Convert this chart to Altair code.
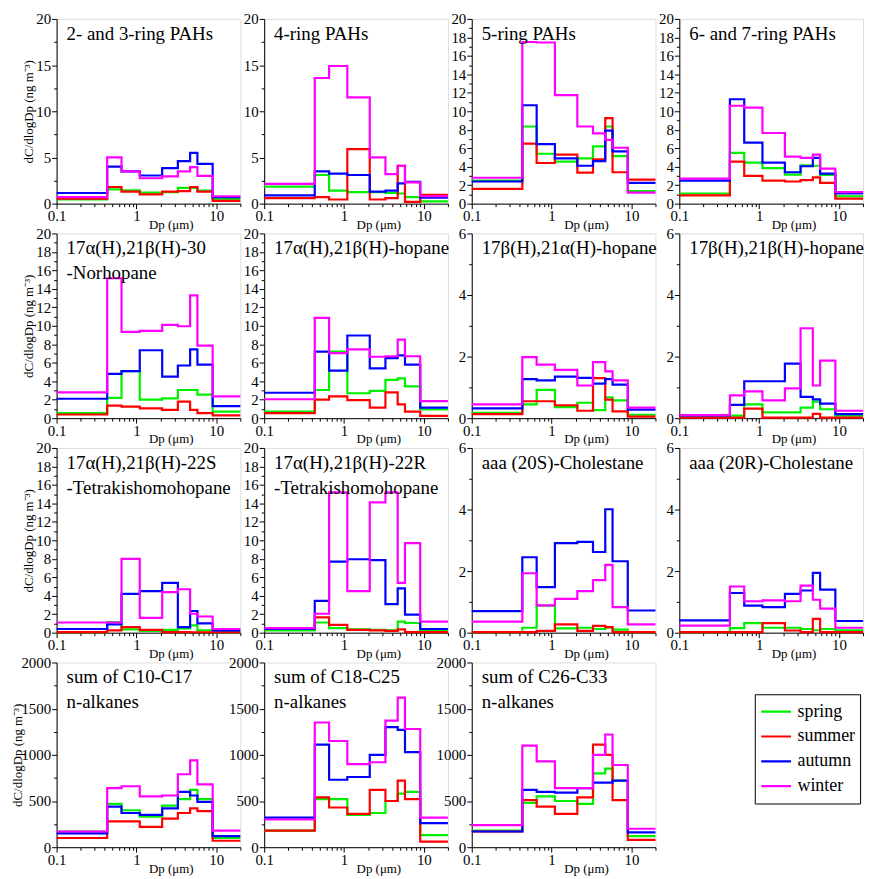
import altair as alt
import pandas as pd

# ---------------- data ----------------
EDGES = [0.1, 0.43, 0.65, 1.1, 2.1, 3.3, 4.7, 5.8, 9.0, 20.0]   # impactor bin edges (µm)
SEASONS = ["spring", "summer", "autumn", "winter"]
COLORS = ["#00ee00", "#ff0000", "#0000ff", "#ff00ff"]
FONT = "Liberation Serif"

PAH23 = dict(spring=[0.45, 1.55, 1.45, 1.2, 1.25, 1.7, 1.7, 1.4, 0.5],
             summer=[0.55, 1.8, 1.3, 1.0, 1.3, 1.35, 1.8, 1.3, 0.3],
             autumn=[1.15, 4.0, 3.5, 3.05, 3.85, 4.6, 5.5, 4.3, 0.7],
             winter=[0.7, 5.0, 3.5, 2.75, 2.95, 3.5, 3.95, 3.0, 0.8])
PAH4 = dict(spring=[1.85, 3.1, 1.4, 1.25, 1.25, 1.15, 1.1, 0.7, 0.25],
            summer=[0.6, 0.7, 0.45, 5.9, 0.45, 0.6, 4.1, 0.2, 0.95],
            autumn=[0.9, 3.5, 3.25, 3.1, 1.3, 1.4, 2.2, 2.35, 0.65],
            winter=[2.15, 13.6, 14.9, 11.5, 5.0, 3.2, 4.1, 2.3, 0.8])
PAH5 = dict(spring=[2.5, 8.35, 5.4, 4.55, 4.9, 6.2, 8.35, 5.15, 1.35],
            summer=[1.6, 6.5, 4.4, 5.3, 3.35, 4.8, 9.25, 3.4, 2.6],
            autumn=[2.4, 10.65, 6.45, 4.9, 4.1, 4.6, 7.9, 5.65, 2.25],
            winter=[2.8, 17.5, 17.45, 11.75, 8.35, 7.6, 6.9, 6.05, 1.2])
PAH67 = dict(spring=[1.1, 5.5, 4.45, 3.85, 3.15, 4.15, 4.1, 3.1, 0.8],
             summer=[0.9, 4.55, 3.0, 2.5, 2.4, 2.55, 2.85, 2.25, 0.55],
             autumn=[2.5, 11.3, 6.6, 4.45, 3.4, 4.05, 4.95, 3.25, 1.1],
             winter=[2.7, 10.6, 10.4, 7.65, 5.1, 4.95, 5.3, 3.8, 1.25])
NORHOP = dict(spring=[0.55, 2.2, 5.1, 2.0, 2.15, 3.05, 3.05, 2.55, 0.7],
              summer=[0.4, 1.35, 1.25, 1.05, 0.9, 1.8, 0.9, 0.55, 0.3],
              autumn=[2.1, 4.8, 5.1, 7.35, 4.5, 5.7, 7.45, 5.8, 1.3],
              winter=[2.8, 15.15, 9.35, 9.45, 10.1, 9.95, 13.3, 7.85, 2.35])
HOP_AB = dict(spring=[0.7, 3.05, 7.2, 2.7, 2.95, 4.15, 4.3, 3.45, 0.95],
              summer=[0.55, 2.0, 2.35, 1.95, 1.15, 2.8, 1.5, 0.7, 0.25],
              autumn=[2.75, 7.2, 5.15, 8.95, 5.4, 6.5, 6.8, 5.8, 1.15],
              winter=[2.05, 10.85, 7.05, 7.45, 6.65, 6.7, 8.5, 6.7, 1.85])
HOP_BA = dict(spring=[0.17, 0.45, 0.92, 0.36, 0.5, 0.26, 0.68, 0.58, 0.11],
              summer=[0.13, 0.55, 0.55, 0.42, 0.24, 1.3, 0.6, 0.22, 0.05],
              autumn=[0.32, 1.27, 1.23, 1.35, 1.31, 1.12, 1.27, 1.09, 0.28],
              winter=[0.45, 1.98, 1.74, 1.57, 1.06, 1.82, 1.52, 1.23, 0.34])
HOP_BB = dict(spring=[0.05, 0.08, 0.45, 0.19, 0.19, 0.34, 0.54, 0.29, 0.08],
              summer=[0.02, 0.02, 0.31, 0.02, 0.02, 0.02, 0.14, 0.02, 0.02],
              autumn=[0.09, 0.43, 1.2, 1.2, 1.77, 0.69, 0.61, 0.47, 0.13],
              winter=[0.1, 0.74, 0.87, 0.58, 0.97, 2.92, 1.06, 1.87, 0.24])
HOMO_S = dict(spring=[0.07, 1.15, 0.35, 0.2, 0.3, 0.45, 0.8, 0.25, 0.07],
              summer=[0.07, 0.25, 0.6, 0.3, 0.07, 0.07, 0.05, 0.05, 0.05],
              autumn=[0.4, 0.9, 4.2, 4.5, 5.4, 0.6, 2.35, 1.0, 0.25],
              winter=[1.1, 1.1, 8.0, 1.6, 4.4, 4.7, 2.05, 1.75, 0.4])
HOMO_R = dict(spring=[0.25, 1.1, 0.5, 0.35, 0.3, 0.25, 1.2, 1.05, 0.2],
              summer=[0.5, 1.65, 0.85, 0.3, 0.25, 0.2, 0.35, 0.07, 0.07],
              autumn=[0.4, 3.45, 7.7, 7.95, 7.85, 3.1, 4.8, 1.95, 0.4],
              winter=[0.5, 2.05, 15.2, 4.5, 14.1, 15.2, 5.4, 9.7, 1.2])
CHOL_S = dict(spring=[0.02, 0.16, 0.88, 0.14, 0.16, 0.12, 0.17, 0.1, 0.02],
              summer=[0.02, 0.02, 0.06, 0.27, 0.06, 0.22, 0.18, 0.02, 0.02],
              autumn=[0.7, 2.45, 1.48, 2.91, 2.95, 2.62, 4.01, 2.32, 0.72],
              winter=[0.36, 1.93, 0.89, 1.1, 1.35, 1.71, 2.2, 0.83, 0.27])
CHOL_R = dict(spring=[0.02, 0.15, 0.31, 0.16, 0.16, 0.12, 0.08, 0.12, 0.08],
              summer=[0.02, 0.02, 0.02, 0.31, 0.07, 0.02, 0.45, 0.02, 0.02],
              autumn=[0.4, 1.29, 0.88, 0.83, 1.26, 1.37, 1.94, 1.4, 0.38],
              winter=[0.23, 1.5, 1.02, 1.05, 1.02, 1.53, 1.07, 0.78, 0.16])
ALK_10_17 = dict(spring=[170, 470, 400, 330, 450, 520, 620, 520, 100],
                 summer=[100, 280, 280, 220, 310, 370, 420, 390, 70],
                 autumn=[150, 440, 370, 350, 420, 600, 560, 490, 120],
                 winter=[170, 640, 660, 550, 560, 790, 940, 680, 180])
ALK_18_25 = dict(spring=[180, 520, 520, 350, 370, 500, 580, 600, 130],
                 summer=[180, 540, 430, 360, 620, 500, 720, 520, 60],
                 autumn=[320, 1110, 730, 760, 1000, 1300, 1270, 1030, 260],
                 winter=[300, 1350, 1150, 900, 920, 1370, 1620, 1280, 320])
ALK_26_33 = dict(spring=[180, 480, 550, 500, 470, 800, 850, 720, 120],
                 summer=[170, 510, 440, 360, 540, 1110, 1000, 510, 80],
                 autumn=[170, 620, 600, 590, 640, 700, 700, 720, 160],
                 winter=[240, 1100, 930, 640, 640, 1000, 1220, 890, 200])

PANELS = [
    ["2- and 3-ring PAHs", PAH23, 20, 5, 2.5],
    ["4-ring PAHs", PAH4, 20, 5, 2.5],
    ["5-ring PAHs", PAH5, 20, 2, 1],
    ["6- and 7-ring PAHs", PAH67, 20, 2, 1],
    ["17α(H),21β(H)-30\n-Norhopane", NORHOP, 20, 2, 1],
    ["17α(H),21β(H)-hopane", HOP_AB, 20, 2, 1],
    ["17β(H),21α(H)-hopane", HOP_BA, 6, 2, 1],
    ["17β(H),21β(H)-hopane", HOP_BB, 6, 2, 1],
    ["17α(H),21β(H)-22S\n-Tetrakishomohopane", HOMO_S, 20, 2, 1],
    ["17α(H),21β(H)-22R\n-Tetrakishomohopane", HOMO_R, 20, 2, 1],
    ["aaa (20S)-Cholestane", CHOL_S, 6, 2, 1],
    ["aaa (20R)-Cholestane", CHOL_R, 6, 2, 1],
    ["sum of C10-C17\nn-alkanes", ALK_10_17, 2000, 500, 250],
    ["sum of C18-C25\nn-alkanes", ALK_18_25, 2000, 500, 250],
    ["sum of C26-C33\nn-alkanes", ALK_26_33, 2000, 500, 250],
]

X_TICKS = [0.1, 0.2, 0.3, 0.4, 0.5, 0.6, 0.7, 0.8, 0.9,
           1, 2, 3, 4, 5, 6, 7, 8, 9, 10, 20]
X_MAJOR_TEST = "datum.value == 0.1 || datum.value == 1 || datum.value == 10"

W, H = 185, 186


def to_frame(data):
    rows = []
    for s in SEASONS:
        vals = data[s]
        for i, v in enumerate(vals):
            rows.append({"season": s, "dp": EDGES[i], "value": v})
        rows.append({"season": s, "dp": EDGES[-1], "value": vals[-1]})
    return pd.DataFrame(rows)


def panel(spec, first_col):
    title, data, ymax, major, minor = spec
    n = int(round(ymax / minor))
    yvals = [round(k * minor, 4) for k in range(n + 1)]
    ytest = f"abs(datum.value / {major} - round(datum.value / {major})) < 1e-6"
    xaxis = alt.Axis(
        values=X_TICKS, format="~g",
        labelExpr=f"({X_MAJOR_TEST}) ? datum.label : ''",
        tickSize={"condition": {"test": X_MAJOR_TEST, "value": 5}, "value": 3},
        labelFont=FONT, labelFontSize=15, labelColor="black", labelPadding=0,
        labelOverlap=False, labelFlush=False,
        domainColor="black", tickColor="black", grid=False,
        title="Dp (μm)", titleFont=FONT, titleFontSize=13, titleFontWeight="normal",
        titleColor="black", titleX=115, titleY=21, titleBaseline="middle",
    )
    yaxis_kw = dict(
        values=yvals,
        labelExpr=f"({ytest}) ? datum.label : ''",
        tickSize={"condition": {"test": ytest, "value": 5}, "value": 3},
        labelFont=FONT, labelFontSize=15, labelColor="black", labelPadding=1,
        labelOverlap=False, labelFlush=False, format="d",
        domainColor="black", tickColor="black", grid=False,
    )
    if first_col:
        yaxis = alt.Axis(title="dC/dlogDp (ng m⁻³)", titleFont=FONT, titleFontSize=13,
                         titleFontWeight="normal", titleColor="black",
                         titleX=-28 if ymax < 100 else -39, titleY=H / 2,
                         titleAlign="center", titleBaseline="middle", **yaxis_kw)
    else:
        yaxis = alt.Axis(title=None, **yaxis_kw)

    lines = alt.Chart(to_frame(data)).mark_line(
        interpolate="step-after", strokeWidth=2.2
    ).encode(
        x=alt.X("dp:Q", scale=alt.Scale(type="log", domain=[0.1, 20], nice=False), axis=xaxis),
        y=alt.Y("value:Q", scale=alt.Scale(domain=[0, ymax], nice=False), axis=yaxis),
        color=alt.Color(
            "season:N",
            scale=alt.Scale(domain=SEASONS, range=COLORS),
            legend=alt.Legend(
                title=None, orient="none", legendX=703, legendY=680,
                strokeColor="black", fillColor="white", padding=5,
                symbolType="stroke", symbolSize=900, symbolStrokeWidth=2.2,
                clipHeight=25,
                labelFont=FONT, labelFontSize=18, labelColor="black",
                labelOffset=5, rowPadding=0, direction="vertical",
            ),
        ),
    )
    label = alt.Chart(pd.DataFrame({"t": [title]})).mark_text(
        align="left", baseline="middle", font=FONT, fontSize=19,
        lineBreak="\n", lineHeight=25, color="black",
    ).encode(x=alt.value(10), y=alt.value(15), text="t:N")
    return alt.layer(lines, label).properties(width=W, height=H)


cells = [panel(spec, i % 4 == 0) for i, spec in enumerate(PANELS)]

chart = alt.concat(
    *cells, columns=4, spacing={"row": 30, "column": 24}, bounds="flush"
).properties(
    padding={"left": 11, "top": 8, "right": 2, "bottom": 5}
).configure_view(stroke=None).configure(background="white")

chart.save("out.html", embed_options={"renderer": "svg", "actions": False})
